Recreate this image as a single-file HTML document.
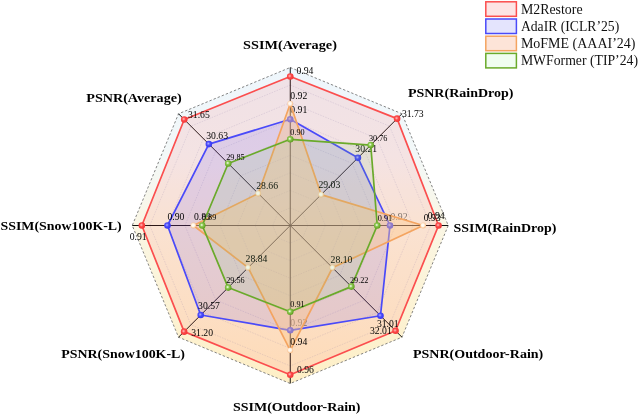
<!DOCTYPE html>
<html><head><meta charset="utf-8"><title>Radar</title>
<style>html,body{margin:0;padding:0;background:#fff;overflow:hidden}svg{display:block}</style></head>
<body>
<svg width="640" height="415" viewBox="0 0 640 415">
<defs>
<linearGradient id="bg" x1="0" y1="0" x2="0" y2="1"><stop offset="0" stop-color="#eef6fc"/><stop offset="0.28" stop-color="#f3f8f8"/><stop offset="0.5" stop-color="#faf6e4"/><stop offset="1" stop-color="#feefc6"/></linearGradient>
<radialGradient id="mred" cx="0.42" cy="0.42" r="0.6"><stop offset="0" stop-color="#ffc0c0"/><stop offset="0.45" stop-color="#fb4a4a"/><stop offset="1" stop-color="#f23434"/></radialGradient>
<radialGradient id="mblue" cx="0.42" cy="0.42" r="0.6"><stop offset="0" stop-color="#b0b0ff"/><stop offset="0.45" stop-color="#4a4af9"/><stop offset="1" stop-color="#3434f2"/></radialGradient>
<radialGradient id="morange" cx="0.45" cy="0.45" r="0.6"><stop offset="0" stop-color="#ffffff"/><stop offset="0.4" stop-color="#fff6ea"/><stop offset="0.8" stop-color="#f9c79a"/><stop offset="1" stop-color="#f4a460" stop-opacity="0.6"/></radialGradient>
<radialGradient id="mgreen" cx="0.42" cy="0.42" r="0.6"><stop offset="0" stop-color="#ffffff"/><stop offset="0.4" stop-color="#8cc850"/><stop offset="1" stop-color="#5a9a1a"/></radialGradient>
</defs>
<rect width="640" height="415" fill="#fff"/>
<polygon points="290.25,67.50 401.97,113.78 448.25,225.50 401.97,337.22 290.25,383.50 178.53,337.22 132.25,225.50 178.53,113.78" fill="url(#bg)"/>
<polygon points="290.25,207.94 302.66,213.09 307.81,225.50 302.66,237.91 290.25,243.06 277.84,237.91 272.69,225.50 277.84,213.09" fill="none" stroke="rgba(110,110,170,0.3)" stroke-width="0.55" stroke-dasharray="1.6,1.1"/>
<polygon points="290.25,190.39 315.08,200.67 325.36,225.50 315.08,250.33 290.25,260.61 265.42,250.33 255.14,225.50 265.42,200.67" fill="none" stroke="rgba(110,110,170,0.3)" stroke-width="0.55" stroke-dasharray="1.6,1.1"/>
<polygon points="290.25,172.83 327.49,188.26 342.92,225.50 327.49,262.74 290.25,278.17 253.01,262.74 237.58,225.50 253.01,188.26" fill="none" stroke="rgba(110,110,170,0.3)" stroke-width="0.55" stroke-dasharray="1.6,1.1"/>
<polygon points="290.25,155.28 339.90,175.85 360.47,225.50 339.90,275.15 290.25,295.72 240.60,275.15 220.03,225.50 240.60,175.85" fill="none" stroke="rgba(110,110,170,0.3)" stroke-width="0.55" stroke-dasharray="1.6,1.1"/>
<polygon points="290.25,137.72 352.32,163.43 378.03,225.50 352.32,287.57 290.25,313.28 228.18,287.57 202.47,225.50 228.18,163.43" fill="none" stroke="rgba(110,110,170,0.3)" stroke-width="0.55" stroke-dasharray="1.6,1.1"/>
<polygon points="290.25,120.17 364.73,151.02 395.58,225.50 364.73,299.98 290.25,330.83 215.77,299.98 184.92,225.50 215.77,151.02" fill="none" stroke="rgba(110,110,170,0.3)" stroke-width="0.55" stroke-dasharray="1.6,1.1"/>
<polygon points="290.25,102.61 377.15,138.60 413.14,225.50 377.15,312.40 290.25,348.39 203.35,312.40 167.36,225.50 203.35,138.60" fill="none" stroke="rgba(110,110,170,0.3)" stroke-width="0.55" stroke-dasharray="1.6,1.1"/>
<polygon points="290.25,85.06 389.56,126.19 430.69,225.50 389.56,324.81 290.25,365.94 190.94,324.81 149.81,225.50 190.94,126.19" fill="none" stroke="rgba(110,110,170,0.3)" stroke-width="0.55" stroke-dasharray="1.6,1.1"/>
<polygon points="290.25,67.50 401.97,113.78 448.25,225.50 401.97,337.22 290.25,383.50 178.53,337.22 132.25,225.50 178.53,113.78" fill="none" stroke="#666" stroke-width="0.8" stroke-dasharray="2.4,2"/>
<line x1="290.25" y1="225.50" x2="290.25" y2="67.50" stroke="#000" stroke-opacity="0.92" stroke-width="1"/>
<line x1="290.25" y1="225.50" x2="401.97" y2="113.78" stroke="#000" stroke-opacity="0.92" stroke-width="1"/>
<line x1="290.25" y1="225.50" x2="448.25" y2="225.50" stroke="#000" stroke-opacity="0.92" stroke-width="1"/>
<line x1="290.25" y1="225.50" x2="401.97" y2="337.22" stroke="#000" stroke-opacity="0.92" stroke-width="1"/>
<line x1="290.25" y1="225.50" x2="290.25" y2="383.50" stroke="#000" stroke-opacity="0.92" stroke-width="1"/>
<line x1="290.25" y1="225.50" x2="178.53" y2="337.22" stroke="#000" stroke-opacity="0.92" stroke-width="1"/>
<line x1="290.25" y1="225.50" x2="132.25" y2="225.50" stroke="#000" stroke-opacity="0.92" stroke-width="1"/>
<line x1="290.25" y1="225.50" x2="178.53" y2="113.78" stroke="#000" stroke-opacity="0.92" stroke-width="1"/>
<g>
<polygon points="290.25,76.50 397.09,118.66 438.55,225.50 395.54,330.79 290.25,374.80 184.11,331.64 141.85,225.50 184.25,119.50" fill="rgba(255,60,60,0.11)" stroke="#fb4e4e" stroke-width="1.7" stroke-linejoin="round"/>
<circle cx="290.25" cy="76.50" r="3.3" fill="url(#mred)"/>
<circle cx="397.09" cy="118.66" r="3.3" fill="url(#mred)"/>
<circle cx="438.55" cy="225.50" r="3.3" fill="url(#mred)"/>
<circle cx="395.54" cy="330.79" r="3.3" fill="url(#mred)"/>
<circle cx="290.25" cy="374.80" r="3.3" fill="url(#mred)"/>
<circle cx="184.11" cy="331.64" r="3.3" fill="url(#mred)"/>
<circle cx="141.85" cy="225.50" r="3.3" fill="url(#mred)"/>
<circle cx="184.25" cy="119.50" r="3.3" fill="url(#mred)"/>
<g font-family="'Liberation Serif', serif" font-size="9.7" fill="#000">
<text x="296.50" y="74.25">0.94</text>
<text x="401.90" y="117.10">31.73</text>
<text x="427.70" y="218.80">0.94</text>
<text x="370.00" y="334.00">32.01</text>
<text x="296.90" y="373.00">0.96</text>
<text x="191.25" y="335.75">31.20</text>
<text x="129.75" y="239.50">0.91</text>
<text x="188.00" y="118.00">31.65</text>
</g></g>
<g>
<polygon points="290.25,119.30 357.92,157.83 390.00,225.50 380.48,315.73 290.25,330.30 200.73,315.02 167.50,225.50 208.86,144.11" fill="rgba(80,70,255,0.135)" stroke="#4a4af9" stroke-width="1.7" stroke-linejoin="round"/>
<circle cx="290.25" cy="119.30" r="3.3" fill="url(#mblue)"/>
<circle cx="357.92" cy="157.83" r="3.3" fill="url(#mblue)"/>
<circle cx="390.00" cy="225.50" r="3.3" fill="url(#mblue)"/>
<circle cx="380.48" cy="315.73" r="3.3" fill="url(#mblue)"/>
<circle cx="290.25" cy="330.30" r="3.3" fill="url(#mblue)"/>
<circle cx="200.73" cy="315.02" r="3.3" fill="url(#mblue)"/>
<circle cx="167.50" cy="225.50" r="3.3" fill="url(#mblue)"/>
<circle cx="208.86" cy="144.11" r="3.3" fill="url(#mblue)"/>
<g font-family="'Liberation Serif', serif" font-size="9.7" fill="#000">
<text x="290.30" y="113.40">0.91</text>
<text x="355.30" y="151.90">30.21</text>
<text x="390.60" y="220.10" fill-opacity="0.5">0.92</text>
<text x="376.90" y="327.40">31.01</text>
<text x="290.30" y="325.50" fill-opacity="0.5">0.92</text>
<text x="198.10" y="309.25">30.57</text>
<text x="167.50" y="220.10">0.90</text>
<text x="206.25" y="138.50">30.63</text>
</g></g>
<g>
<polygon points="290.25,103.75 321.15,194.60 423.15,225.50 332.50,267.75 290.25,350.30 248.11,267.64 193.45,225.50 258.25,193.50" fill="rgba(253,200,140,0.42)" stroke="#f4a460" stroke-width="1.7" stroke-linejoin="round"/>
<circle cx="290.25" cy="103.75" r="2.9" fill="url(#morange)"/>
<circle cx="321.15" cy="194.60" r="2.9" fill="url(#morange)"/>
<circle cx="423.15" cy="225.50" r="2.9" fill="url(#morange)"/>
<circle cx="332.50" cy="267.75" r="2.9" fill="url(#morange)"/>
<circle cx="290.25" cy="350.30" r="2.9" fill="url(#morange)"/>
<circle cx="248.11" cy="267.64" r="2.9" fill="url(#morange)"/>
<circle cx="193.45" cy="225.50" r="2.9" fill="url(#morange)"/>
<circle cx="258.25" cy="193.50" r="2.9" fill="url(#morange)"/>
<g font-family="'Liberation Serif', serif" font-size="9.7" fill="#000">
<text x="290.30" y="98.60">0.92</text>
<text x="318.50" y="188.25">29.03</text>
<text x="423.75" y="220.50">0.93</text>
<text x="330.60" y="263.00">28.10</text>
<text x="290.30" y="344.90">0.94</text>
<text x="245.60" y="262.00">28.84</text>
<text x="194.00" y="219.80">0.89</text>
<text x="256.25" y="189.25">28.66</text>
</g></g>
<g>
<polygon points="290.25,139.30 370.72,145.03 377.25,225.50 351.34,286.59 290.25,311.80 228.17,287.58 202.25,225.50 228.24,163.49" fill="rgba(110,200,110,0.12)" stroke="#6aaa2a" stroke-width="1.7" stroke-linejoin="round"/>
<circle cx="290.25" cy="139.30" r="3.3" fill="url(#mgreen)"/>
<circle cx="370.72" cy="145.03" r="3.3" fill="url(#mgreen)"/>
<circle cx="377.25" cy="225.50" r="3.3" fill="url(#mgreen)"/>
<circle cx="351.34" cy="286.59" r="3.3" fill="url(#mgreen)"/>
<circle cx="290.25" cy="311.80" r="3.3" fill="url(#mgreen)"/>
<circle cx="228.17" cy="287.58" r="3.3" fill="url(#mgreen)"/>
<circle cx="202.25" cy="225.50" r="3.3" fill="url(#mgreen)"/>
<circle cx="228.24" cy="163.49" r="3.3" fill="url(#mgreen)"/>
<g font-family="'Liberation Serif', serif" font-size="8.2" fill="#000">
<text x="290.30" y="134.50">0.90</text>
<text x="369.00" y="140.75">30.76</text>
<text x="377.75" y="220.50">0.91</text>
<text x="350.00" y="283.00">29.22</text>
<text x="290.30" y="307.00">0.91</text>
<text x="226.25" y="283.00">29.56</text>
<text x="201.90" y="220.30">0.89</text>
<text x="226.25" y="159.75">29.85</text>
</g></g>
<g font-family="'Liberation Serif', serif" font-size="13.3" font-weight="bold" fill="#000">
<text x="243.10" y="48.80" textLength="93.80" lengthAdjust="spacingAndGlyphs">SSIM(Average)</text>
<text x="407.90" y="96.70" textLength="105.60" lengthAdjust="spacingAndGlyphs">PSNR(RainDrop)</text>
<text x="453.50" y="232.00" textLength="102.80" lengthAdjust="spacingAndGlyphs">SSIM(RainDrop)</text>
<text x="413.00" y="357.65" textLength="130.25" lengthAdjust="spacingAndGlyphs">PSNR(Outdoor-Rain)</text>
<text x="233.00" y="410.90" textLength="127.50" lengthAdjust="spacingAndGlyphs">SSIM(Outdoor-Rain)</text>
<text x="61.25" y="358.40" textLength="123.75" lengthAdjust="spacingAndGlyphs">PSNR(Snow100K-L)</text>
<text x="0.50" y="230.40" textLength="121.25" lengthAdjust="spacingAndGlyphs">SSIM(Snow100K-L)</text>
<text x="86.25" y="101.65" textLength="95.50" lengthAdjust="spacingAndGlyphs">PSNR(Average)</text>
</g>
<g font-family="'Liberation Serif', serif" font-size="13.8" fill="#111">
<rect x="485.80" y="1.80" width="30.6" height="14.5" fill="#fde4e4" stroke="#fb4e4e" stroke-width="1.5"/>
<text x="520.9" y="13.85" textLength="61.70" lengthAdjust="spacingAndGlyphs">M2Restore</text>
<rect x="485.80" y="19.00" width="30.6" height="14.5" fill="#e4e4fd" stroke="#4a4af9" stroke-width="1.5"/>
<text x="520.9" y="31.05" textLength="98.30" lengthAdjust="spacingAndGlyphs">AdaIR (ICLR’25)</text>
<rect x="485.80" y="36.20" width="30.6" height="14.5" fill="#fde4d8" stroke="#f4a460" stroke-width="1.5"/>
<text x="520.9" y="48.25" textLength="114.60" lengthAdjust="spacingAndGlyphs">MoFME (AAAI’24)</text>
<rect x="485.80" y="53.40" width="30.6" height="14.5" fill="#f0fdf0" stroke="#6aaa2a" stroke-width="1.5"/>
<text x="520.9" y="65.45" textLength="117.10" lengthAdjust="spacingAndGlyphs">MWFormer (TIP’24)</text>
</g>
</svg>
</body></html>
